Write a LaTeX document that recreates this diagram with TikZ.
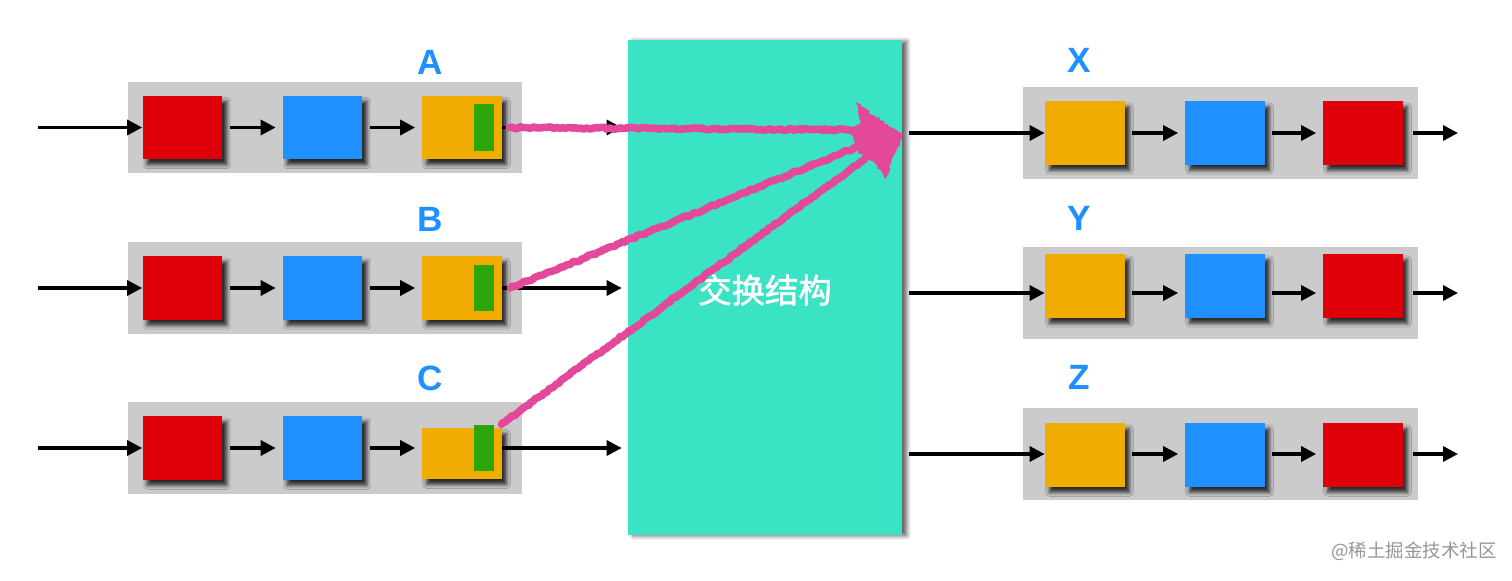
\documentclass[tikz,border=0pt]{standalone}
\usepackage{fontspec}
\setsansfont{Liberation Sans}
\newfontfamily\cjk{Noto Sans CJK SC}
\newfontfamily\cjkmid[FakeBold=1.6]{Noto Sans CJK SC}
\usepackage{tikz}
\usetikzlibrary{%
	arrows.meta,%
	calc,%
	shadows.blur,%
	decorations.pathmorphing
}

\definecolor{pred}{RGB}{224,0,10}
\definecolor{pblue}{RGB}{30,144,255}
\definecolor{porange}{RGB}{240,172,0}
\definecolor{pgreen}{RGB}{44,166,8}
\definecolor{qgray}{RGB}{203,203,203}
\definecolor{fabteal}{RGB}{58,227,196}
\definecolor{chalkpink}{RGB}{228,72,155}
\definecolor{wmgray}{RGB}{150,150,150}

\tikzset{
	queue/.style={fill=qgray, minimum width=7.9cm, minimum height=1.84cm, inner sep=0pt},
	pkt/.style={minimum width=1.6cm, minimum height=1.27cm, inner sep=0pt,
		blur shadow={shadow xshift=0.09cm, shadow yshift=-0.11cm, shadow blur radius=0.08cm, shadow opacity=80}},
	tag/.style={fill=pgreen, minimum width=0.4cm, minimum height=0.93cm, inner sep=0pt},
	qname/.style={text=pblue, font=\sffamily\bfseries\fontsize{20}{20}\selectfont},
	flow/.style={-{Triangle[length=0.3cm,width=0.3cm]}, line width=1.9pt},
	gap/.style={shorten <=0.14cm, shorten >=0.13cm},
	chalk/.style={draw=chalkpink, line width=0.15cm, line cap=round, line join=round, decorate,
		decoration={random steps, segment length=1.5pt, amplitude=0.6pt}}
}

\begin{document}
\begin{tikzpicture}[x=0.02cm,y=-0.02cm]
	\useasboundingbox (0,0) rectangle (1512,581);
	
	% Switch fabric
	\node[fill=fabteal, minimum width=5.48cm, minimum height=9.9cm, inner sep=0pt,
		blur shadow={shadow xshift=0.1cm, shadow yshift=-0.02cm, shadow blur radius=0.08cm, shadow opacity=60}] (sw) at (765,287.5) {};
	\node[text=white, font=\cjkmid\fontsize{19}{19}\selectfont] (swl) at (765,290) {交换结构};
	
	% Input queues
	\foreach \r/\y/\oy/\oh/\ly in {A/127.5/127.5/1.27/62, B/288/288/1.27/219, C/448/453.5/1.02/378}{
		\node[queue] (g\r) at (325,\y) {};
		\node[qname] (n\r) at (430,\ly) {\r};
		\node[pkt, fill=pred] (r\r) at (182.5,\y) {};
		\node[pkt, fill=pblue] (b\r) at (322.5,\y) {};
		\node[pkt, fill=porange, minimum height=\oh cm] (o\r) at (462,\oy) {};
		\node[tag] (k\r) at (484,\y) {};
		\coordinate (in\r) at (38,\y);
		\draw[flow] (in\r) -- (r\r.west);
		\draw[flow, gap] (r\r.east) -- (b\r.west);
		\draw[flow, gap] (b\r.east) -- (o\r.west |- b\r.east);
		\draw[flow] (o\r.east |- g\r) -- ([xshift=-0.12cm]sw.west |- g\r);
	}
	
	% Output queues
	\foreach \r/\y/\by/\ly in {X/133/133/60, Y/293/286/218, Z/454/455/377}{
		\node[queue] (g\r) at (1220.5,\y) {};
		\node[qname] (n\r) at (1079,\ly) {\r};
		\node[pkt, fill=porange] (o\r) at (1085,\by) {};
		\node[pkt, fill=pblue] (b\r) at (1225,\by) {};
		\node[pkt, fill=pred] (r\r) at (1363,\by) {};
		\coordinate (out\r) at (1458,\y);
		\draw[flow, shorten <=0.14cm] (sw.east |- g\r) -- (o\r.west |- g\r);
		\draw[flow, gap] (o\r.east |- g\r) -- (b\r.west |- g\r);
		\draw[flow, gap] (b\r.east |- g\r) -- (r\r.west |- g\r);
		\draw[flow, shorten <=0.2cm] (r\r.east |- g\r) -- (out\r);
	}
	
	% Head-of-line packets crossing the fabric
	\coordinate (tip) at (903,135);
	\coordinate (hA) at (862,130);
	\coordinate (hB) at (862,145);
	\coordinate (hC) at (870,155);
	\draw[chalk] ([xshift=0.14cm]oA.east) -- (hA);
	\draw[chalk] ([xshift=0.16cm]oB.east) -- (hB);
	\draw[chalk] ([xshift=-0.02cm]oC.east |- kC.north) -- (hC);
	\fill[chalkpink, line join=round, decorate, decoration={random steps, segment length=1.5pt, amplitude=0.8pt}]
		(855,102) -- (tip) -- (885,179) -- (874,162) -- (858,152) -- (850,130) -- (861,122) -- cycle;
	
	% Watermark
	\node[text=wmgray, font=\cjk\fontsize{10.5}{10.5}\selectfont] (wm) at (1414,551) {@稀土掘金技术社区};
\end{tikzpicture}
\end{document}
